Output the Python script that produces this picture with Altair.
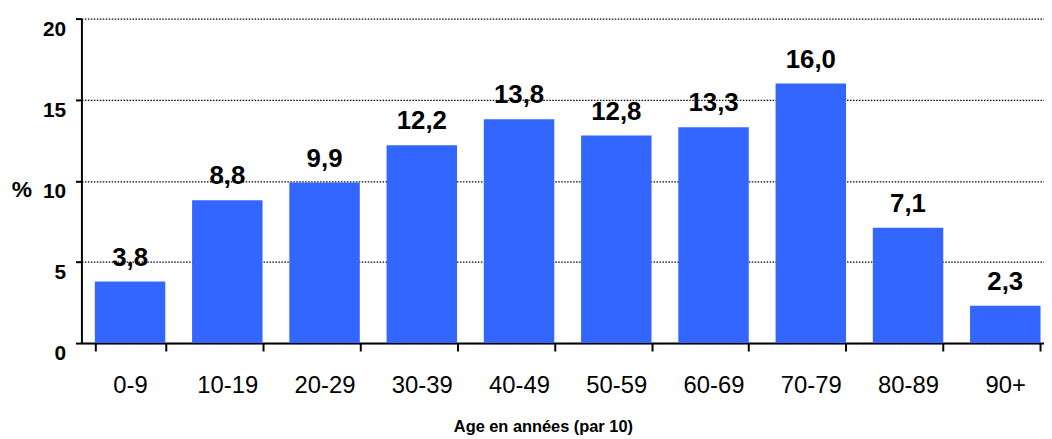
import altair as alt
import pandas as pd

categories = ["0-9", "10-19", "20-29", "30-39", "40-49", "50-59", "60-69", "70-79", "80-89", "90+"]
values = [3.8, 8.8, 9.9, 12.2, 13.8, 12.8, 13.3, 16.0, 7.1, 2.3]
y_ticks = [0, 5, 10, 15, 20]

df = pd.DataFrame({"age": categories, "pct": values})
df["label"] = [f"{v:.1f}".replace(".", ",") for v in values]

FONT = "Liberation Sans"
BLUE = "#3366FF"

# band layout: step 98 px, bar 71 px; the last band runs past the right edge
x_scale = alt.Scale(paddingInner=0.2755, paddingOuter=0.0868, align=0.794)

x_enc = alt.X(
    "age:N",
    sort=categories,
    scale=x_scale,
    axis=alt.Axis(
        title="Age en années (par 10)",
        labelAngle=0,
        tickBand="extent",
        tickSize=8,
        tickWidth=2,
        tickColor="black",
        domainColor="black",
        domainWidth=2,
        labelFont=FONT,
        labelFontSize=24,
        labelColor="black",
        labelPadding=23,
        labelBaseline="top",
        titleFont=FONT,
        titleFontSize=16.5,
        titleFontWeight="bold",
        titleColor="black",
        titleX=465,
        titleY=89,
        titleAlign="center",
        titleBaseline="alphabetic",
        grid=False,
    ),
)

y_enc = alt.Y(
    "pct:Q",
    scale=alt.Scale(domain=[0, 20], nice=False),
    axis=alt.Axis(
        values=y_ticks,
        title="%",
        titleAngle=0,
        titleX=-60.5,
        titleY=179,
        titleAlign="center",
        titleBaseline="alphabetic",
        titleFont=FONT,
        titleFontSize=23,
        titleFontWeight="bold",
        titleColor="black",
        labelFont=FONT,
        labelFontSize=21,
        labelFontWeight="bold",
        labelColor="black",
        labelBaseline="top",
        labelPadding=10,
        tickSize=6,
        tickWidth=2,
        tickColor="black",
        domainColor="black",
        domainWidth=2,
        grid=True,
        gridColor="black",
        gridDash=[1.5, 1.5],
        gridWidth=1.2,
    ),
)

bars = alt.Chart(df).mark_bar(color=BLUE).encode(x=x_enc, y=y_enc)
labels = alt.Chart(df).mark_text(
    dy=-16, baseline="alphabetic", fontSize=26, fontWeight="bold", font=FONT, color="black"
).encode(x=alt.X("age:N", sort=categories), y="pct:Q", text="label:N")

chart = alt.layer(bars, labels).properties(
    width=970,
    height=327,
    padding={"left": 74, "top": 9, "right": 0, "bottom": 93},
    autosize=alt.AutoSizeParams(type="none"),
    background="white",
).configure_view(stroke=None)

chart.save("out.html", embed_options={"renderer": "svg", "actions": False})
